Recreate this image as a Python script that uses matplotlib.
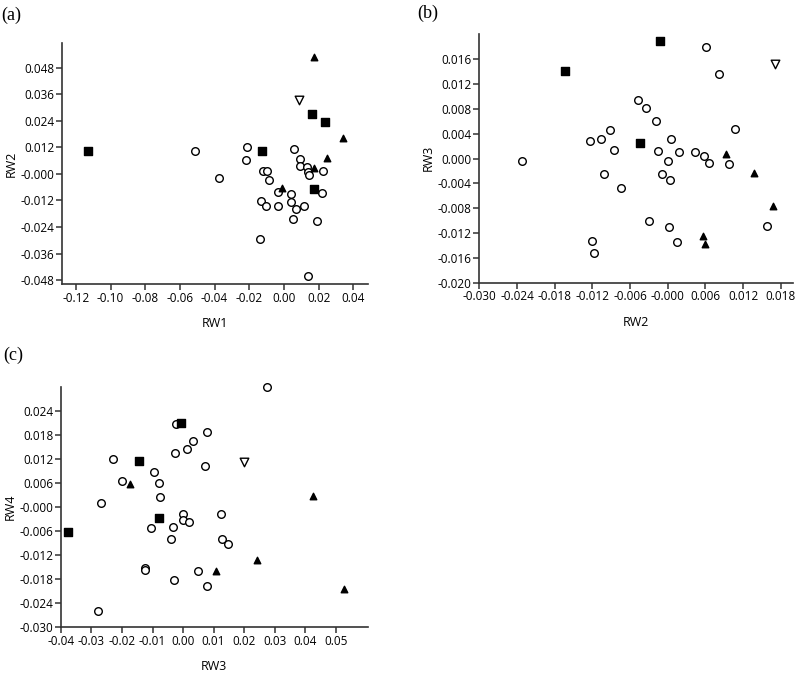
import numpy as np
import matplotlib
matplotlib.use('Agg')
import matplotlib.pyplot as plt
from matplotlib.ticker import FormatStrFormatter

plt.rcParams['font.family'] = ['Open Sans', 'DejaVu Sans']

# ---- panel (a): RW1 vs RW2 ----
a_sq_x = [-0.1132, 0.0163, 0.0236, -0.0126, 0.0174]
a_sq_y = [0.0104, 0.0273, 0.0236, 0.0104, -0.0068]
a_tri_x = [0.0174, 0.0340, 0.0251, 0.0174, -0.0014]
a_tri_y = [0.0528, 0.0165, 0.0074, 0.0026, -0.0065]
a_inv_x = [0.0088]
a_inv_y = [0.0335]
a_circ_x = [-0.0515, -0.0372, -0.0215, -0.0220, -0.0118, -0.0099, -0.0086, -0.0036,
            -0.0130, -0.0105, -0.0032, -0.0137, 0.0057, 0.0095, 0.0093, 0.0134,
            0.0136, 0.0143, 0.0226, 0.0222, 0.0039, 0.0043, 0.0070, 0.0114,
            0.0053, 0.0188, 0.0137]
a_circ_y = [0.0104, -0.0017, 0.0124, 0.0063, 0.0015, 0.0012, -0.0027, -0.0080,
            -0.0122, -0.0146, -0.0143, -0.0293, 0.0112, 0.0067, 0.0036, 0.0033,
            0.0009, -0.0006, 0.0015, -0.0085, -0.0092, -0.0125, -0.0160, -0.0143,
            -0.0202, -0.0213, -0.0462]

# ---- panel (b): RW2 vs RW3 ----
b_sq_x = [-0.0163, -0.0013, -0.0044]
b_sq_y = [0.0141, 0.0190, 0.0026]
b_tri_x = [0.0093, 0.0137, 0.0167, 0.0057, 0.0060]
b_tri_y = [0.0008, -0.0023, -0.0076, -0.0124, -0.0138]
b_inv_x = [0.0171]
b_inv_y = [0.0152]
b_circ_x = [-0.0232, -0.0123, -0.0121, -0.0118, -0.0107, -0.0092, -0.0086, -0.0101,
            -0.0075, -0.0048, -0.0035, -0.0019, 0.0005, -0.0016, 0.0018, 0.0000,
            -0.0009, 0.0004, -0.0030, 0.0002, 0.0015, 0.0061, 0.0081, 0.0044,
            0.0058, 0.0066, 0.0098, 0.0108, 0.0158]
b_circ_y = [-0.0004, 0.0028, -0.0132, -0.0152, 0.0032, 0.0047, 0.0014, -0.0025,
            -0.0048, 0.0095, 0.0081, 0.0061, 0.0031, 0.0013, 0.0011, -0.0004,
            -0.0024, -0.0035, -0.0100, -0.0110, -0.0134, 0.0180, 0.0136, 0.0010,
            0.0004, -0.0007, -0.0009, 0.0048, -0.0109]

# ---- panel (c): RW3 vs RW4 ----
c_sq_x = [-0.0376, -0.0145, -0.0080, -0.0008]
c_sq_y = [-0.0062, 0.0115, -0.0027, 0.0210]
c_tri_x = [-0.0175, 0.0426, 0.0241, 0.0108, 0.0526]
c_tri_y = [0.0057, 0.0029, -0.0131, -0.0159, -0.0204]
c_inv_x = [0.0199]
c_inv_y = [0.0113]
c_circ_x = [-0.0230, -0.0199, -0.0269, -0.0280, -0.0094, -0.0079, -0.0076, -0.0104,
            -0.0034, -0.0040, -0.0126, -0.0126, -0.0030, -0.0022, -0.0027, 0.0014,
            0.0031, -0.0001, -0.0001, 0.0020, 0.0050, 0.0274, 0.0077, 0.0071,
            0.0125, 0.0128, 0.0146, 0.0077]
c_circ_y = [0.0120, 0.0066, 0.0010, -0.0260, 0.0087, 0.0060, 0.0026, -0.0052,
            -0.0049, -0.0080, -0.0151, -0.0156, -0.0183, 0.0207, 0.0135, 0.0146,
            0.0165, -0.0016, -0.0032, -0.0037, -0.0160, 0.0300, 0.0187, 0.0102,
            -0.0016, -0.0080, -0.0092, -0.0196]


def draw_panel(ax, circ, sq, tri, inv, xlim, ylim, xticks, yticks, xfmt, yfmt, xlabel, ylabel):
    ax.scatter(circ[0], circ[1], s=30, marker='o', facecolors='white', edgecolors='black',
               linewidths=1.0, zorder=3, clip_on=False)
    ax.scatter(sq[0], sq[1], s=30, marker='s', color='black', zorder=4, clip_on=False)
    ax.scatter(tri[0], tri[1], s=22, marker='^', color='black', zorder=4, clip_on=False)
    ax.scatter(inv[0], inv[1], s=38, marker='v', facecolors='white', edgecolors='black',
               linewidths=1.0, zorder=4, clip_on=False)
    ax.set_xlim(*xlim)
    ax.set_ylim(*ylim)
    ax.set_xticks(xticks)
    ax.set_yticks(yticks)
    ax.xaxis.set_major_formatter(FormatStrFormatter(xfmt))
    ax.yaxis.set_major_formatter(FormatStrFormatter(yfmt))
    for s in ['top', 'right']:
        ax.spines[s].set_visible(False)
    for s in ['left', 'bottom']:
        ax.spines[s].set_color('#333333')
        ax.spines[s].set_linewidth(1.2)
    ax.tick_params(direction='out', length=4, width=1.1, color='#333333', labelsize=8.5, pad=1.5)
    ax.set_xlabel(xlabel, fontsize=9, labelpad=9)
    ax.set_ylabel(ylabel, fontsize=9, labelpad=2)


fig = plt.figure(figsize=(7.99, 6.76), dpi=100)

ax_a = fig.add_axes([0.0776, 0.5799, 0.3830, 0.3565])
draw_panel(ax_a, (a_circ_x, a_circ_y), (a_sq_x, a_sq_y), (a_tri_x, a_tri_y), (a_inv_x, a_inv_y),
           (-0.128, 0.0485), (-0.0498, 0.0593),
           np.arange(-0.12, 0.041, 0.02), np.arange(-0.048, 0.049, 0.012),
           '%.2f', '%.3f', 'RW1', 'RW2')

ax_b = fig.add_axes([0.600, 0.5818, 0.392, 0.3679])
draw_panel(ax_b, (b_circ_x, b_circ_y), (b_sq_x, b_sq_y), (b_tri_x, b_tri_y), (b_inv_x, b_inv_y),
           (-0.030, 0.0199), (-0.020, 0.0201),
           np.arange(-0.030, 0.0181, 0.006), np.arange(-0.020, 0.0161, 0.004),
           '%.3f', '%.3f', 'RW2', 'RW3')

ax_c = fig.add_axes([0.0763, 0.0720, 0.3839, 0.3560])
draw_panel(ax_c, (c_circ_x, c_circ_y), (c_sq_x, c_sq_y), (c_tri_x, c_tri_y), (c_inv_x, c_inv_y),
           (-0.040, 0.0605), (-0.030, 0.0301),
           np.arange(-0.04, 0.051, 0.01), np.arange(-0.030, 0.0241, 0.006),
           '%.2f', '%.3f', 'RW3', 'RW4')

serif = ['Liberation Serif', 'DejaVu Serif']
fig.text(0.002, 0.978, '(a)', fontsize=13, family=serif, va='center')
fig.text(0.522, 0.980, '(b)', fontsize=13, family=serif, va='center')
fig.text(0.004, 0.475, '(c)', fontsize=13, family=serif, va='center')

fig.savefig('out.png', dpi=100)
